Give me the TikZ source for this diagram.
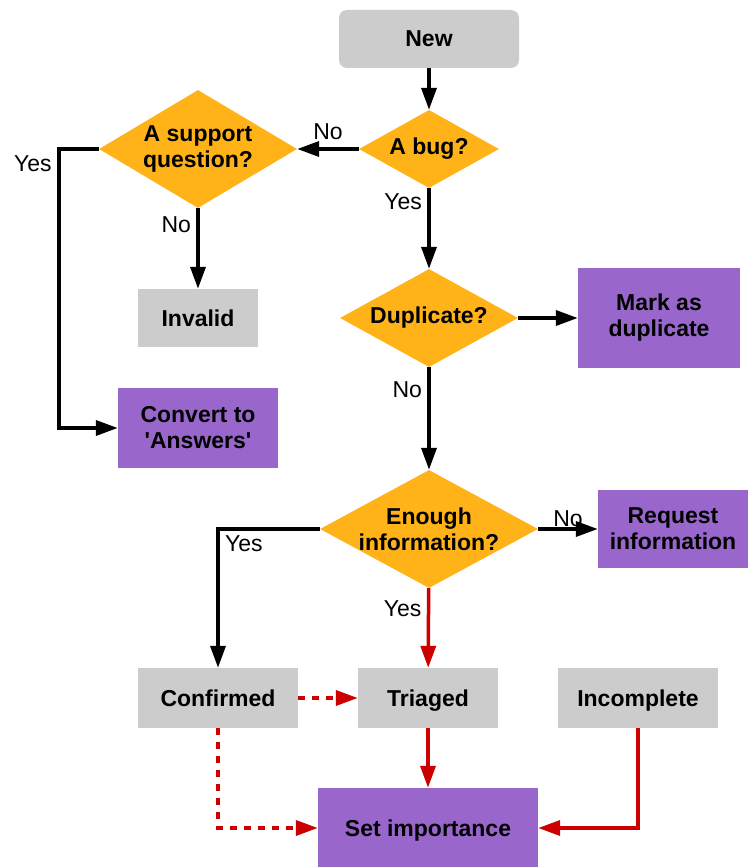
\documentclass[tikz,border=0pt]{standalone}
\usepackage{fontspec}
\setmainfont{Liberation Sans}
\usetikzlibrary{shapes.geometric,arrows.meta}
\definecolor{stategray}{HTML}{CCCCCC}
\definecolor{askorange}{HTML}{FFB319}
\definecolor{actpurple}{HTML}{9966CC}
\definecolor{flowred}{HTML}{CC0000}

\begin{document}
\begin{tikzpicture}[x=1pt, y=-1pt,
        state/.style={fill=stategray, font=\fontsize{23}{26}\selectfont\bfseries,
                align=center, inner sep=0pt, minimum height=58pt,
                text height=19pt, text depth=3pt},
        action/.style={fill=actpurple, font=\fontsize{23}{26}\selectfont\bfseries,
                align=center, inner sep=0pt},
        question/.style={diamond, fill=askorange, font=\fontsize{23}{26}\selectfont\bfseries,
                align=center, inner sep=-5pt},
        flow/.style={line width=3.5pt, -{Triangle[length=22pt,width=15pt]}},
        redflow/.style={flow, flowred},
        maybe/.style={redflow, dash pattern=on 7pt off 7pt},
        lbl/.style={font=\fontsize{23}{26}\selectfont, text=black}]
\useasboundingbox (0,0) rectangle (749,867);

\node[state, rounded corners=8pt, minimum width=180pt] (new) at (429,39) {New};
\node[question, aspect=1.8, minimum width=140pt, minimum height=78pt] (bug) at (429,149) {A bug?};
\node[question, aspect=1.68, minimum width=198pt, minimum height=118pt] (support) at (198,149) {A support\\question?};
\node[state, minimum width=120pt] (invalid) at (198,318) {Invalid};
\node[action, minimum width=160pt, minimum height=80pt] (answers) at (198,428) {Convert to\\\textquotesingle Answers\textquotesingle};
\node[question, aspect=1.82, minimum width=178pt, minimum height=98pt] (dup) at (429,318) {Duplicate?};
\node[action, minimum width=162pt, minimum height=100pt] (markdup) at (659,318) {Mark as\\duplicate};
\node[question, aspect=1.85, minimum width=218pt, minimum height=118pt] (enough) at (429,529) {Enough\\information?};
\node[action, minimum width=150pt, minimum height=78pt] (request) at (673,529) {Request\\information};
\node[state, minimum width=160pt, minimum height=60pt] (confirmed) at (218,698) {Confirmed};
\node[state, minimum width=140pt, minimum height=60pt] (triaged) at (428,698) {Triaged};
\node[state, minimum width=160pt, minimum height=60pt] (incomplete) at (638,698) {Incomplete};
\node[action, minimum width=220pt, minimum height=80pt, text height=19pt, text depth=3pt] (importance) at (428,828) {Set importance};

\draw[flow] (new) -- (bug);
\draw[flow] (bug) -- node[lbl, above=4pt] {No} (support);
\draw[flow] (support.west) -- ++(-40,0) node[lbl, below left=2pt] {Yes} |- (answers.west);
\draw[flow] (support) -- node[lbl, pos=0.2, left=2pt] {No} (invalid);
\draw[flow] (bug) -- node[lbl, pos=0.17, left=2pt] {Yes} (dup);
\draw[flow] (dup) -- (markdup);
\draw[flow] (dup) -- node[lbl, pos=0.22, left=2pt] {No} (enough);
\draw[flow] (enough) -- node[lbl, above=-3pt] {No} (request);
\draw[flow] (enough.west) -| node[lbl, below right=2pt] {Yes} (confirmed.north);
\draw[redflow] (enough) -- node[lbl, pos=0.26, left=2pt] {Yes} (triaged);
\draw[maybe] (confirmed) -- (triaged);
\draw[maybe] (confirmed.south) |- (importance.west);
\draw[redflow] (triaged) -- (importance);
\draw[redflow] (incomplete.south) |- (importance.east);
\end{tikzpicture}
\end{document}
